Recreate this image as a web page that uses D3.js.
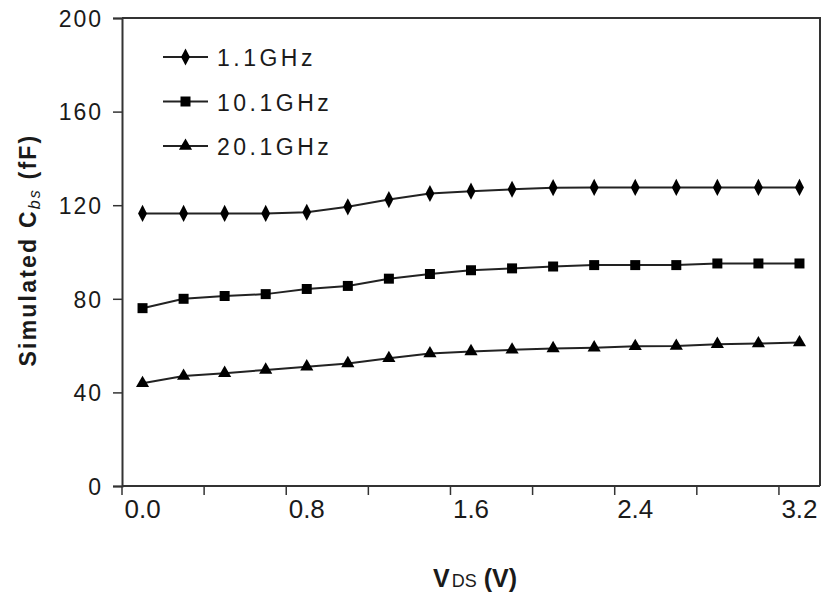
<!DOCTYPE html>
<html>
<head>
<meta charset="utf-8">
<script src="https://cdn.jsdelivr.net/npm/d3@7"></script>
<style>
  body { margin: 0; background: #fff; }
  text { font-family: "Liberation Sans", Arial, sans-serif; fill: #1a1a1a; }
</style>
</head>
<body>
<svg id="chart" width="822" height="596"></svg>
<script>
// data
var vds = ["0.0","0.2","0.4","0.6","0.8","1.0","1.2","1.4","1.6","1.8","2.0","2.2","2.4","2.6","2.8","3.0","3.2"];
var xLabels = ["0.0","0.8","1.6","2.4","3.2"];
var yTicks = [0, 40, 80, 120, 160, 200];
var seriesNames = ["1.1GHz", "10.1GHz", "20.1GHz"];
var cbs_1_1 = [116.5,116.5,116.5,116.5,117,119.3,122.4,125,126,126.8,127.5,127.6,127.6,127.6,127.6,127.6,127.6];
var cbs_10_1 = [76,80,81.2,82,84.2,85.5,88.6,90.6,92.2,93,93.8,94.4,94.4,94.4,95.1,95.1,95.1];
var cbs_20_1 = [43.9,47,48.2,49.6,51,52.4,54.6,56.6,57.5,58.2,58.8,59.1,59.7,59.8,60.6,60.9,61.3];

var svg = d3.select("#chart");

margin = {top: 18, right: 2, bottom: 110, left: 122};
width = 822 - margin.left - margin.right;
height = 596 - margin.top - margin.bottom;

var g = svg.append("g")
    .attr("transform", "translate(" + margin.left + "," + margin.top + ")");

// category axis, like the spreadsheet it came from
x = d3.scaleBand()
    .domain(vds)
    .range([0, width])
    .padding(0);

y = d3.scaleLinear()
    .domain([0, 200])
    .range([height, 0]);

// plot box (top + right edges)
g.append("path")
    .attr("d", "M0,0H" + width + "V" + height)
    .attr("fill", "none")
    .attr("stroke", "#333")
    .attr("stroke-width", 2);

// y axis
var yAxis = g.append("g")
    .attr("class", "axis axis--y")
    .call(d3.axisLeft(y).tickValues(yTicks).tickSize(9).tickPadding(10));
yAxis.select(".domain").attr("stroke", "#333").attr("stroke-width", 2);
yAxis.selectAll(".tick line").attr("stroke", "#333").attr("stroke-width", 1.5);
yAxis.selectAll(".tick text")
    .style("font-size", "23px")
    .style("letter-spacing", "2px")
    .attr("fill", "#222")
    .attr("dy", "0.36em");

// x axis, labels every 4th category, ticks on every 2nd boundary
var xAxis = g.append("g")
    .attr("class", "x-axis")
    .attr("transform", "translate(0," + height + ")")
    .call(d3.axisBottom(x).tickValues(xLabels).tickSize(0).tickPadding(32));
xAxis.select(".domain").remove();
xAxis.selectAll(".tick text")
    .style("font-size", "26px")
    .attr("fill", "#222")
    .attr("dy", "0");

g.append("line")
    .attr("x1", 0).attr("x2", width)
    .attr("y1", height).attr("y2", height)
    .attr("stroke", "#333").attr("stroke-width", 2);

g.selectAll(".xtick")
    .data(vds.filter(function(d, i) { return i % 2 == 0; }))
    .enter().append("line")
    .attr("class", "xtick")
    .attr("x1", function(d) { return x(d); })
    .attr("x2", function(d) { return x(d); })
    .attr("y1", height)
    .attr("y2", height + 9)
    .attr("stroke", "#333")
    .attr("stroke-width", 1.5);

// series
var symbols = [d3.symbolDiamond, d3.symbolSquare, d3.symbolTriangle];
var symSizes = [85, 100, 75];
var allSeries = [cbs_1_1, cbs_10_1, cbs_20_1];

var line = d3.line()
    .x(function(d, i) { return x(vds[i]) + x.bandwidth() / 2; })
    .y(function(d) { return y(d); });

allSeries.forEach(function(vals, k) {
    g.append("path")
        .datum(vals)
        .attr("d", line)
        .attr("fill", "none")
        .attr("stroke", "#222")
        .attr("stroke-width", 2);

    g.selectAll(".pt" + k)
        .data(vals)
        .enter().append("path")
        .attr("class", "pt" + k)
        .attr("d", d3.symbol().type(symbols[k]).size(symSizes[k]))
        .attr("transform", function(d, i) {
            var sx = k == 0 ? "scale(0.9,1)" : "";
            return "translate(" + (x(vds[i]) + x.bandwidth() / 2) + "," + y(d) + ")" + sx;
        })
        .attr("fill", "#000");
});

// legend
var legend = svg.append("g").attr("transform", "translate(163,57)");
seriesNames.forEach(function(name, k) {
    var row = legend.append("g").attr("transform", "translate(0," + (k * 44.5) + ")");
    row.append("line")
        .attr("x1", 0).attr("x2", 45)
        .attr("stroke", "#222").attr("stroke-width", 2);
    row.append("path")
        .attr("d", d3.symbol().type(symbols[k]).size(symSizes[k]))
        .attr("transform", "translate(22.5,0)" + (k == 0 ? "scale(0.9,1)" : ""))
        .attr("fill", "#000");
    row.append("text")
        .attr("x", 54)
        .attr("y", 9)
        .style("font-size", "23px")
        .style("letter-spacing", "3.5px")
        .text(name);
});

// axis titles
var yTitle = svg.append("text")
    .attr("transform", "translate(36,250) rotate(-90)")
    .attr("text-anchor", "middle")
    .style("font-size", "23px")
    .style("font-weight", "bold")
    .style("letter-spacing", "2.2px");
yTitle.append("tspan").text("Simulated C");
yTitle.append("tspan").attr("dy", 4).style("font-size", "16px").style("font-weight", "normal").style("font-style", "italic").text("bs");
yTitle.append("tspan").attr("dy", -4).text(" (fF)");

var xTitle = svg.append("text")
    .attr("x", 475)
    .attr("y", 587)
    .attr("text-anchor", "middle")
    .style("font-size", "25px")
    .style("font-weight", "bold");
xTitle.append("tspan").text("V");
xTitle.append("tspan").style("font-size", "18px").style("font-weight", "normal").attr("dx", 2).text("DS");
xTitle.append("tspan").text(" (V)");
</script>
</body>
</html>
